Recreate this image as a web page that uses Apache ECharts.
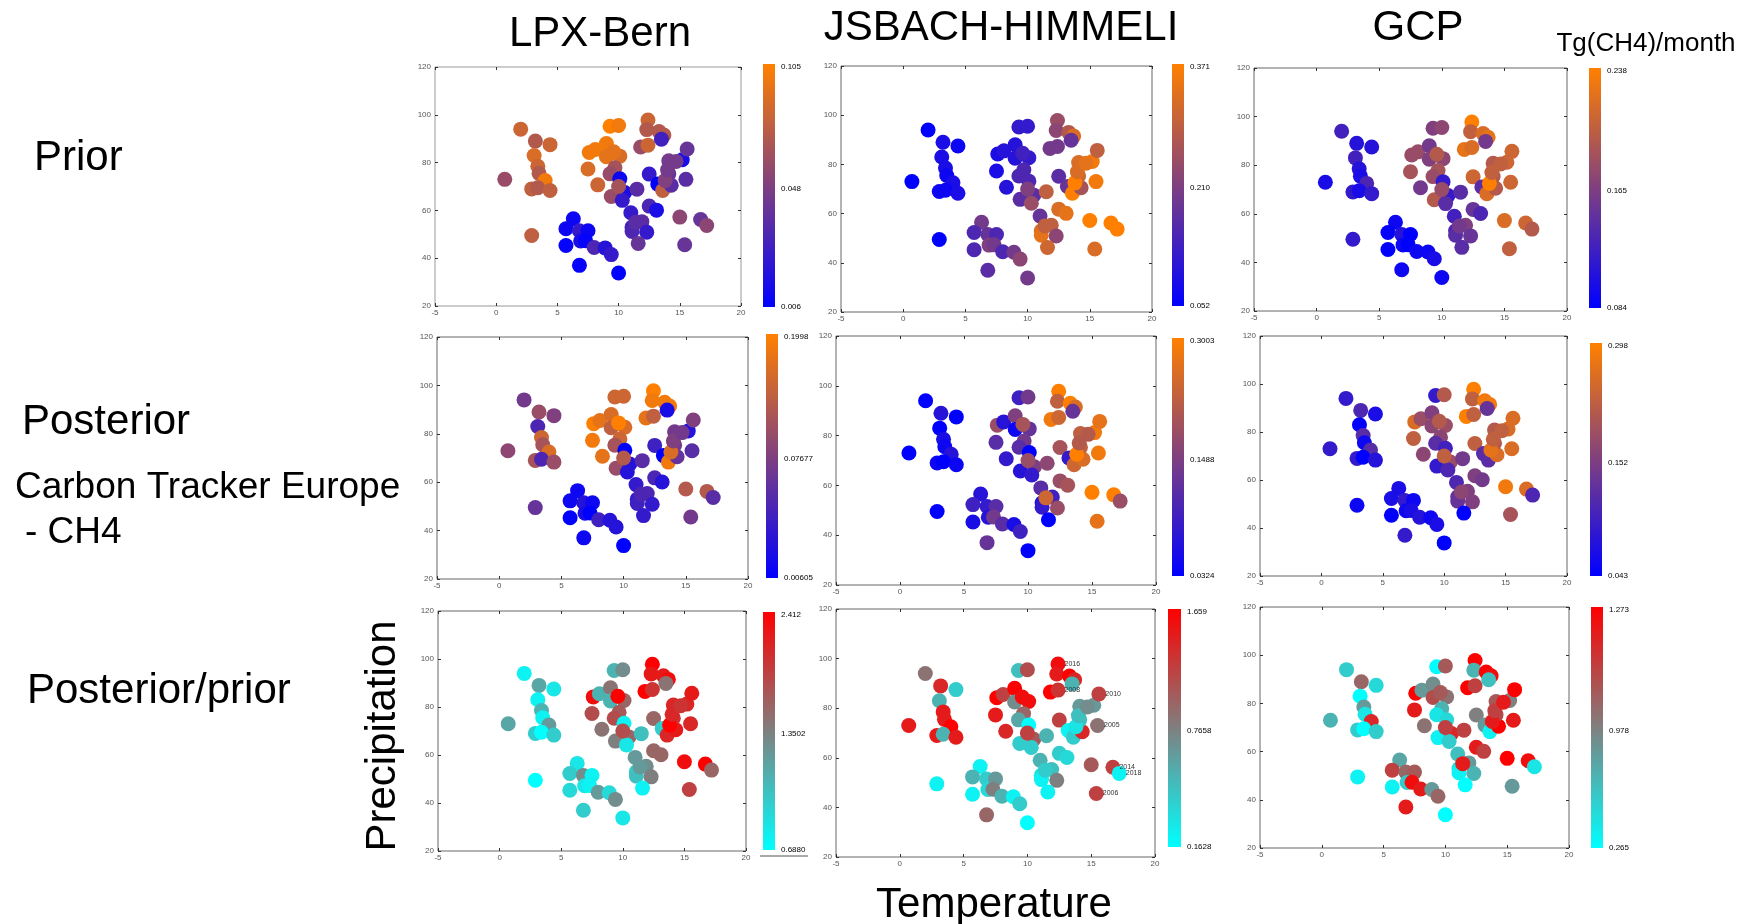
<!DOCTYPE html>
<html>
<head>
<meta charset="utf-8">
<script src="https://cdn.jsdelivr.net/npm/echarts@6/dist/echarts.min.js"></script>
<style>
html,body{margin:0;padding:0;background:#fff}
#chart{width:1742px;height:924px}
</style>
</head>
<body>
<div id="chart"></div>
<script>
// same sites / months in every panel: temperature vs precipitation
var temperature = [0.7,2.0,3.2,4.4,3.1,3.4,3.5,4.0,2.9,3.4, 4.4,2.9,6.3,5.7,6.8,7.5,5.7,6.9,7.3,8.0,
    8.9,9.4,6.8,10.0,7.5,7.6,8.1,9.0,9.3,10.0, 9.0,10.1,9.7,9.3,8.3,9.4,10.1,10.5,10.3,11.5,
    11.0,11.9,11.1,11.1,12.3,11.6,12.5,13.1,12.5,13.2, 13.6,14.3,14.1,14.1,15.2,15.6,15.5,15.0,16.7,17.2,
    15.4,12.4,12.3,11.8,12.4,13.3,13.7,13.5,13.8,14.0, 14.7,10.0,11.4,9.6];
var precipitation = [73,94,89,87.5,83,78.5,75.5,72.5,69,69.5, 68.3,49.5,56.5,52.3,51.5,51.5,45.3,47.2,47.3,44.5,
    44.3,41.5,37,33.8,77.3,84.2,85.5,88,95.2,95.5, 82.5,82.7,77.8,75.3,70.7,65.8,73.2,67.5,64.2,68.9,
    59.0,55.3,53.0,51.2,50.9,46.2,61.8,60.1,75.2,71.0, 68.3,70.5,75.3,80.8,81.2,85.7,73.0,57.2,56.2,53.7,
    45.6,97.8,93.8,86.5,87.3,93.0,91.5,89.8,72.5,77.0, 80.5,70.0,55.0,84.5];

var lpxPrior = [0.065,0.085,0.075,0.085,0.090,0.085,0.075,0.100,0.080,0.075, 0.080,0.080,0.011,0.011,0.026,0.011,0.008,0.016,0.008,0.036,
    0.021,0.026,0.008,0.006,0.090,0.100,0.100,0.100,0.105,0.100, 0.095,0.090,0.070,0.065,0.085,0.065,0.011,0.016,0.026,0.041,
    0.026,0.041,0.031,0.036,0.026,0.046,0.036,0.016,0.026,0.006, 0.080,0.041,0.046,0.051,0.016,0.046,0.041,0.060,0.046,0.060,
    0.046,0.085,0.075,0.065,0.085,0.075,0.075,0.031,0.056,0.051, 0.051,0.070,0.041,0.095];
var jsbachPrior = [0.052,0.052,0.084,0.068,0.084,0.084,0.068,0.084,0.068,0.068, 0.084,0.052,0.196,0.148,0.180,0.148,0.148,0.212,0.196,0.148,
    0.196,0.227,0.164,0.196,0.084,0.084,0.100,0.100,0.116,0.116, 0.100,0.116,0.148,0.148,0.100,0.164,0.148,0.164,0.243,0.291,
    0.180,0.291,0.323,0.339,0.227,0.307,0.323,0.339,0.164,0.180, 0.371,0.259,0.307,0.323,0.355,0.291,0.355,0.371,0.371,0.371,
    0.323,0.243,0.227,0.196,0.196,0.275,0.323,0.180,0.371,0.323, 0.339,0.212,0.291,0.132];
var gcpPrior = [0.099,0.123,0.107,0.107,0.123,0.107,0.099,0.130,0.115,0.099, 0.115,0.115,0.092,0.087,0.107,0.084,0.084,0.092,0.084,0.092,
    0.092,0.099,0.092,0.092,0.184,0.176,0.176,0.153,0.161,0.169, 0.161,0.169,0.184,0.176,0.153,0.192,0.115,0.115,0.138,0.138,
    0.123,0.161,0.130,0.138,0.146,0.138,0.146,0.130,0.207,0.138, 0.215,0.192,0.192,0.192,0.207,0.207,0.207,0.215,0.207,0.192,
    0.200,0.238,0.200,0.223,0.215,0.215,0.223,0.153,0.238,0.200, 0.200,0.176,0.153,0.192];
var lpxPost = [0.113,0.093,0.122,0.103,0.064,0.161,0.132,0.171,0.132,0.064, 0.122,0.083,0.016,0.016,0.035,0.016,0.006,0.025,0.006,0.054,
    0.035,0.035,0.016,0.006,0.190,0.199,0.180,0.171,0.161,0.161, 0.151,0.171,0.161,0.132,0.180,0.122,0.006,0.035,0.035,0.074,
    0.045,0.064,0.045,0.054,0.045,0.045,0.064,0.035,0.054,0.006, 0.190,0.083,0.093,0.093,0.035,0.103,0.074,0.142,0.142,0.074,
    0.093,0.199,0.190,0.180,0.151,0.190,0.190,0.025,0.171,0.103, 0.093,0.142,0.064,0.199];
var jsbachPost = [0.032,0.032,0.073,0.032,0.032,0.059,0.046,0.073,0.046,0.032, 0.046,0.032,0.073,0.099,0.086,0.126,0.059,0.073,0.153,0.126,
    0.059,0.099,0.140,0.032,0.126,0.193,0.073,0.166,0.099,0.153, 0.046,0.140,0.153,0.126,0.086,0.073,0.032,0.166,0.086,0.180,
    0.126,0.099,0.073,0.086,0.193,0.032,0.193,0.207,0.207,0.086, 0.247,0.260,0.233,0.233,0.287,0.274,0.287,0.300,0.300,0.193,
    0.274,0.300,0.233,0.287,0.247,0.300,0.260,0.140,0.300,0.220, 0.220,0.193,0.247,0.207];
var gcpPost = [0.094,0.094,0.120,0.069,0.043,0.132,0.056,0.132,0.094,0.043, 0.081,0.056,0.069,0.069,0.094,0.056,0.043,0.056,0.069,0.081,
    0.056,0.069,0.094,0.043,0.234,0.260,0.196,0.171,0.094,0.222, 0.183,0.196,0.183,0.132,0.183,0.094,0.107,0.196,0.120,0.158,
    0.120,0.171,0.145,0.145,0.171,0.043,0.171,0.158,0.234,0.132, 0.132,0.260,0.222,0.222,0.260,0.260,0.260,0.285,0.260,0.120,
    0.209,0.298,0.234,0.298,0.234,0.285,0.285,0.145,0.273,0.234, 0.234,0.234,0.183,0.222];
var lpxRatio = [1.291,0.774,1.291,0.860,0.774,1.205,0.774,1.378,1.033,0.688, 1.033,0.688,0.860,1.033,1.464,0.774,0.947,0.860,0.774,1.378,
    0.947,1.464,1.033,0.860,1.895,2.326,1.205,1.636,1.205,1.464, 1.205,1.722,1.809,1.895,1.636,1.550,0.774,1.722,0.860,1.119,
    1.378,1.464,1.033,1.119,1.550,0.774,1.722,1.722,1.722,1.033, 2.153,2.240,2.067,2.153,2.153,2.240,2.153,2.326,2.412,1.722,
    1.981,2.412,2.240,2.412,2.067,2.240,2.326,1.636,2.412,2.153, 2.067,1.895,1.378,2.412];
var jsbachRatio = [1.509,0.985,1.434,0.461,0.611,1.509,1.509,1.659,1.509,0.611, 1.509,0.237,0.237,0.611,0.461,0.761,0.237,0.387,0.911,0.611,
    0.237,0.461,1.060,0.162,1.509,1.659,1.285,1.659,0.536,1.210, 0.836,1.584,1.060,0.686,1.434,0.461,0.162,1.135,0.461,0.611,
    0.611,0.536,0.312,0.237,0.911,0.237,0.461,0.387,1.285,0.237, 0.461,1.434,0.536,0.761,0.761,1.285,0.985,1.135,1.285,0.237,
    1.285,1.584,1.509,1.659,1.360,1.659,1.434,0.611,0.312,0.536, 0.836,1.285,0.461,1.584];
var gcpRatio = [0.567,0.467,0.870,0.416,0.265,0.668,0.366,1.122,0.467,0.265, 0.467,0.315,0.618,1.021,0.870,0.920,0.315,0.467,1.223,1.172,
    0.668,0.870,1.172,0.265,1.172,1.273,0.668,0.719,0.265,0.920, 0.971,0.819,0.567,0.366,0.819,0.315,0.416,1.122,0.467,1.021,
    0.517,0.668,0.366,0.315,0.567,0.265,1.172,1.021,0.769,0.668, 0.315,1.273,0.971,0.920,0.769,1.273,1.172,1.273,1.223,0.366,
    0.668,1.273,0.567,1.273,1.021,1.273,1.223,0.517,1.172,1.021, 1.172,1.021,1.172,0.920];

var colorRanges = [[0.006,0.105],[0.052,0.371],[0.084,0.238],
    [0.00605,0.1998],[0.0324,0.3003],[0.043,0.298],
    [0.688,2.412],[0.162,1.659],[0.265,1.273]];
var colorbarLabels = [['0.105','0.048','0.006'],['0.371','0.210','0.052'],['0.238','0.165','0.084'],
    ['0.1998','0.07677','0.00605'],['0.3003','0.1488','0.0324'],['0.298','0.152','0.043'],
    ['2.412','1.3502','0.6880'],['1.659','0.7658','0.1628'],['1.273','0.978','0.265']];
var yearLabels = [[61,'2016'],[64,'2008'],[55,'2010'],[56,'2005'],[58,'2014'],[59,'2018'],[60,'2006']];

var panelValues = [lpxPrior, jsbachPrior, gcpPrior, lpxPost, jsbachPost, gcpPost, lpxRatio, jsbachRatio, gcpRatio];

// layout of the 3x3 panels: plot box and colour bar [left, top, width, height]
var boxes = [[435,67,306,239],[841,66,311,246],[1254,68,313,243],
    [437,337,311,242],[836,336,320,249],[1260,336,307,240],
    [438,611,308,240],[836,609,319,248],[1260,607,309,241]];
var bars = [[763,64,12,243],[1172,64,12,242],[1589,68,12,240],
    [766,334,12,244],[1172,338,12,238],[1590,343,12,233],
    [763,612,12,238],[1168,609,13,238],[1591,607,12,241]];

var blueOrange = ['#0000ff','#ff8000'];
var cyanRed = ['#00ffff','#ff0000'];
var FONT = '"Liberation Sans", Arial, Helvetica, sans-serif';

var chart = echarts.init(document.getElementById('chart'));

var grids = [], xAxes = [], yAxes = [], series = [], visualMaps = [], graphics = [];

function textEl(str, x, y, size, align, extra) {
    var el = {
        type: 'text', x: x, y: y, silent: true,
        style: {
            text: str, font: size + 'px ' + FONT, fill: '#000',
            textAlign: align, align: align,
            textVerticalAlign: 'middle', verticalAlign: 'middle'
        }
    };
    if (extra) for (var k in extra) el[k] = extra[k];
    return el;
}

for (var i = 0; i < 9; i++) {
    var b = boxes[i];
    var colors = i < 6 ? blueOrange : cyanRed;
    grids.push({left: b[0], top: b[1], width: b[2], height: b[3], show: true,
        borderColor: i === 0 ? '#999' : '#666', borderWidth: 1, backgroundColor: '#fff'});
    var tick = {inside: true, length: 3, lineStyle: {color: '#333'}};
    var noLine = {show: false, onZero: false};
    xAxes.push({gridIndex: i, type: 'value', min: -5, max: 20, interval: 5, position: 'bottom',
        axisLine: noLine, axisTick: tick, splitLine: {show: false},
        axisLabel: {fontSize: 8, color: '#555', margin: 3, fontFamily: FONT}});
    xAxes.push({gridIndex: i, type: 'value', min: -5, max: 20, interval: 5, position: 'top',
        axisLine: noLine, axisTick: tick, splitLine: {show: false}, axisLabel: {show: false}});
    yAxes.push({gridIndex: i, type: 'value', min: 20, max: 120, interval: 20, position: 'left',
        axisLine: noLine, axisTick: tick, splitLine: {show: false},
        axisLabel: {fontSize: 8, color: '#555', margin: 4, fontFamily: FONT}});
    yAxes.push({gridIndex: i, type: 'value', min: 20, max: 120, interval: 20, position: 'right',
        axisLine: noLine, axisTick: tick, splitLine: {show: false}, axisLabel: {show: false}});

    var vals = panelValues[i];
    var data = temperature.map(function (t, k) { return [t, precipitation[k], vals[k]]; });
    var s = {
        type: 'scatter', xAxisIndex: 2 * i, yAxisIndex: 2 * i, data: data,
        symbolSize: 15, itemStyle: {opacity: 1}, silent: true
    };
    if (i === 7) {
        var names = {};
        yearLabels.forEach(function (y) { names[y[0]] = y[1]; });
        s.label = {show: true, position: 'right', distance: -1, fontSize: 7, color: '#333', fontFamily: FONT,
            formatter: function (p) { return names[p.dataIndex] || ''; }};
    }
    series.push(s);
    visualMaps.push({type: 'continuous', show: false, seriesIndex: i, dimension: 2,
        min: colorRanges[i][0], max: colorRanges[i][1], inRange: {color: colors}});

    // colour bar
    var c = bars[i];
    graphics.push({
        type: 'rect', silent: true,
        shape: {x: c[0], y: c[1], width: c[2], height: c[3]},
        style: {fill: new echarts.graphic.LinearGradient(0, 1, 0, 0, [
            {offset: 0, color: colors[0]}, {offset: 1, color: colors[1]}])}
    });
    var lx = c[0] + c[2] + 6;
    var labs = colorbarLabels[i];
    graphics.push(textEl(labs[0], lx, c[1] + 3, 8, 'left'));
    graphics.push(textEl(labs[1], lx, c[1] + c[3] / 2 + 3, 8, 'left'));
    graphics.push(textEl(labs[2], lx, c[1] + c[3], 8, 'left'));
}

// column titles, row titles, axis names
graphics.push(textEl('LPX-Bern', 600, 34, 42, 'center'));
graphics.push(textEl('JSBACH-HIMMELI', 1001, 28, 42, 'center'));
graphics.push(textEl('GCP', 1418, 28, 42, 'center'));
graphics.push(textEl('Tg(CH4)/month', 1646, 44, 26, 'center'));
graphics.push(textEl('Prior', 34, 158, 42, 'left'));
graphics.push(textEl('Posterior', 22, 422, 42, 'left'));
graphics.push(textEl('Carbon Tracker Europe', 15, 488, 37, 'left'));
graphics.push(textEl('- CH4', 25, 533, 37, 'left'));
graphics.push(textEl('Posterior/prior', 27, 691, 42, 'left'));
graphics.push(textEl('Precipitation', 383, 736, 42, 'center', {rotation: Math.PI / 2}));
graphics.push(textEl('Temperature', 994, 905, 42, 'center'));
graphics.push({type: 'line', silent: true, shape: {x1: 760, y1: 856, x2: 808, y2: 856},
    style: {stroke: '#555', lineWidth: 1}});

chart.setOption({
    animation: false,
    backgroundColor: '#fff',
    grid: grids,
    xAxis: xAxes,
    yAxis: yAxes,
    visualMap: visualMaps,
    series: series,
    graphic: graphics
});
</script>
</body>
</html>
